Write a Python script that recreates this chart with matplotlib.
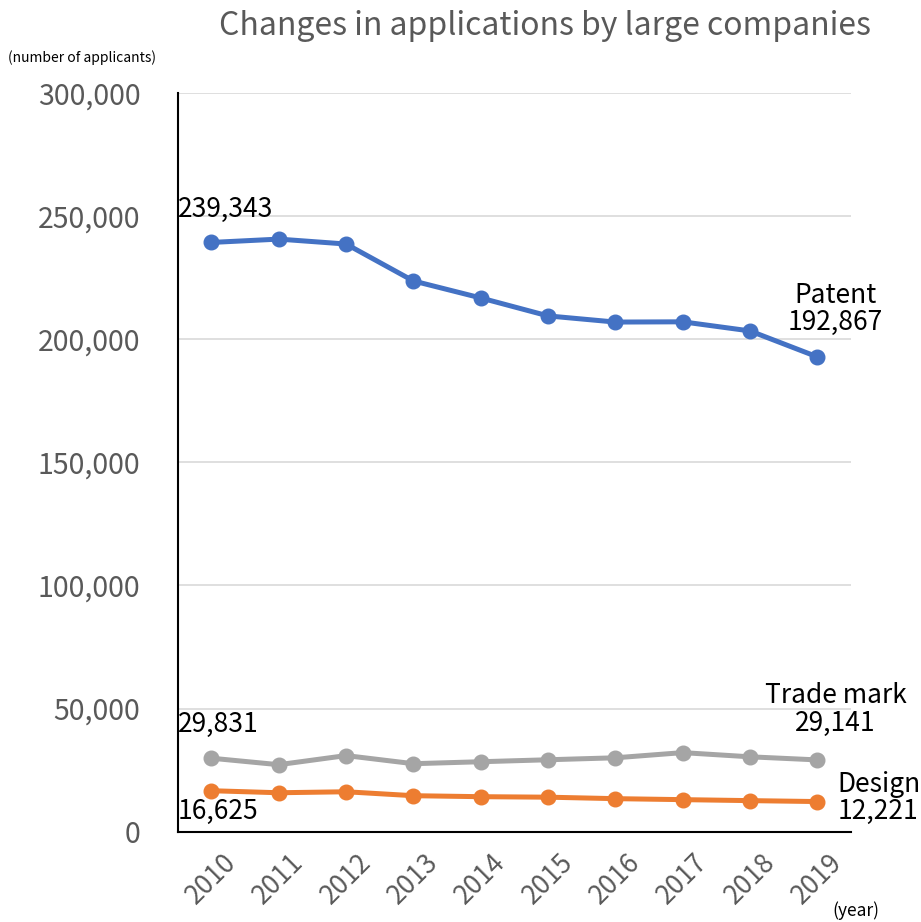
import matplotlib
matplotlib.use("Agg")
import matplotlib.pyplot as plt

plt.rcParams['font.family'] = ['Noto Sans CJK JP', 'DejaVu Sans']

years = ['2010', '2011', '2012', '2013', '2014', '2015', '2016', '2017', '2018', '2019']
patent = [239343, 240700, 238700, 223700, 216800, 209500, 207000, 207100, 203400, 192867]
trade_mark = [29831, 27200, 30900, 27600, 28400, 29200, 30000, 32100, 30400, 29141]
design = [16625, 15800, 16200, 14600, 14200, 14000, 13400, 13000, 12600, 12221]

BLUE = '#4472C4'
GRAY = '#A5A5A5'
ORANGE = '#ED7D31'

fig = plt.figure(figsize=(9.21, 9.22), dpi=100)
ax = fig.add_axes([0.193, 0.098, 0.731, 0.801])

x = list(range(len(years)))
for vals, col in [(trade_mark, GRAY), (design, ORANGE), (patent, BLUE)]:
    ax.plot(x, vals, color=col, linewidth=3.6, marker='o', markersize=10.5,
            solid_capstyle='round', zorder=3)

ax.set_xlim(-0.5, len(years) - 0.5)
ax.set_ylim(0, 300000)
ax.set_yticks(range(0, 300001, 50000))
ax.set_yticklabels([f'{v:,}' for v in range(0, 300001, 50000)])
ax.set_xticks(x)
ax.set_xticklabels(years, rotation=45, ha='center')

ax.tick_params(axis='y', length=0, labelsize=20.5, labelcolor='#595959', pad=27)
ax.tick_params(axis='x', length=0, labelsize=19, labelcolor='#595959', pad=12)
ax.grid(axis='y', color='#D9D9D9', linewidth=1.2, zorder=0)
ax.set_axisbelow(True)
for side in ['top', 'right']:
    ax.spines[side].set_visible(False)
for side in ['left', 'bottom']:
    ax.spines[side].set_color('black')
    ax.spines[side].set_linewidth(1.5)

# data labels
lab = dict(fontsize=19, color='black')
ax.text(-0.5, patent[0] + 13500, f'{patent[0]:,}', ha='left', va='center', **lab)
ax.text(9.27, patent[-1] + 19500, f'Patent\n{patent[-1]:,}', ha='center', va='center',
        linespacing=1.0, **lab)
ax.text(-0.5, trade_mark[0] + 13600, f'{trade_mark[0]:,}', ha='left', va='center', **lab)
ax.text(9.27, trade_mark[-1] + 20500, f'Trade mark\n{trade_mark[-1]:,}', ha='center',
        va='center', linespacing=1.0, **lab)
ax.text(-0.5, design[0] - 8500, f'{design[0]:,}', ha='left', va='center', **lab)
ax.text(9.3, design[-1] + 1600, f'Design\n{design[-1]:,}', ha='left', va='center',
        linespacing=1.0, **lab)

fig.text(0.592, 0.972, 'Changes in applications by large companies', ha='center',
         va='center', fontsize=23, color='#595959')
fig.text(0.009, 0.938, '(number of applicants)', ha='left', va='center', fontsize=10,
         color='black')
fig.text(0.904, 0.012, '(year)', ha='left', va='center', fontsize=12.5, color='black')

fig.savefig('out.png', dpi=100)
